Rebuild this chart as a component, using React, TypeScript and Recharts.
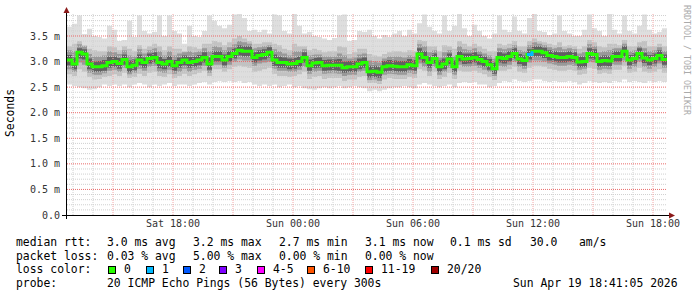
import React from 'react';
import { ComposedChart, Area, Line, XAxis, YAxis, ReferenceLine } from 'recharts';

// 30 h window, one sample every 15 min, starting Sat 12:42 (minutes since Sat 00:00)
const startMin = 762;
const stepMin = 15;

const median = [
  3.03, 2.95, 3.18, 3.15, 2.95, 2.9, 2.9, 2.92, 2.98, 3.0,
  2.96, 3.04, 2.9, 2.93, 3.03, 2.98, 3.06, 3.08, 2.98, 2.95,
  3.0, 2.92, 2.98, 3.03, 2.98, 3.0, 3.03, 3.08, 2.95, 3.1,
  3.1, 3.03, 3.1, 3.16, 3.22, 3.2, 3.2, 3.08, 3.12, 3.14,
  3.18, 3.03, 2.98, 2.98, 2.95, 2.96, 3.0, 3.08, 2.92, 2.97,
  2.98, 2.92, 2.93, 2.93, 2.93, 2.88, 2.9, 2.9, 2.95, 2.98,
  2.8, 2.81, 2.79, 2.9, 2.92, 2.91, 2.9, 2.9, 2.94, 2.92,
  3.15, 3.08, 2.98, 3.06, 2.9, 2.95, 3.05, 2.9, 3.1, 3.05,
  3.06, 3.08, 3.04, 3.0, 2.94, 2.86, 3.08, 3.06, 3.1, 3.16,
  3.05, 3.02, 3.14, 3.2, 3.2, 3.17, 3.12, 3.1, 3.08, 3.08,
  3.1, 3.08, 2.99, 3.0, 3.16, 3.14, 3.0, 3.02, 3.01, 3.1,
  3.1, 3.2, 3.03, 3.06, 3.16, 3.07, 3.03, 3.06, 3.12, 3.04,
];

const loss = median.map((_, i) => (i === 92 ? 1 : 0));

const maxRtt = [
  3.68, 3.74, 3.9, 3.54, 3.64, 3.5, 3.48, 3.45, 3.7, 3.62,
  3.4, 3.42, 3.8, 3.48, 3.9, 3.6, 3.55, 3.58, 3.9, 3.5,
  3.9, 3.6, 3.55, 3.35, 3.7, 3.5, 3.48, 3.6, 3.9, 3.8,
  3.7, 3.65, 3.72, 3.92, 3.95, 3.85, 3.6, 3.62, 3.58, 3.62,
  3.55, 3.92, 3.9, 3.6, 3.55, 3.95, 3.7, 3.55, 3.58, 3.5,
  3.48, 3.45, 3.42, 3.46, 3.9, 3.92, 3.4, 3.42, 3.6, 3.58,
  3.62, 3.5, 3.45, 3.52, 3.48, 3.55, 3.6, 3.5, 3.62, 3.55,
  3.75, 3.92, 3.68, 3.6, 3.55, 3.9, 3.6, 3.7, 3.95, 3.65,
  3.5, 3.72, 3.6, 3.5, 3.45, 3.55, 3.9, 3.62, 3.58, 3.88,
  3.6, 3.55, 3.85, 3.95, 3.6, 3.58, 3.52, 3.55, 3.9, 3.6,
  3.55, 3.5, 3.5, 3.62, 3.92, 3.65, 3.6, 3.5, 3.95, 3.62,
  3.55, 3.9, 3.6, 3.55, 3.7, 3.92, 3.62, 3.55, 3.58, 3.65,
];

const minRtt = [
  2.55, 2.52, 2.5, 2.48, 2.45, 2.46, 2.5, 2.55, 2.52, 2.55,
  2.52, 2.55, 2.5, 2.55, 2.58, 2.55, 2.5, 2.55, 2.52, 2.55,
  2.58, 2.52, 2.55, 2.55, 2.52, 2.55, 2.58, 2.6, 2.55, 2.6,
  2.62, 2.6, 2.62, 2.6, 2.62, 2.58, 2.6, 2.55, 2.52, 2.55,
  2.52, 2.55, 2.5, 2.52, 2.55, 2.5, 2.52, 2.48, 2.46, 2.45,
  2.48, 2.5, 2.48, 2.5, 2.52, 2.48, 2.5, 2.52, 2.5, 2.48,
  2.42, 2.45, 2.42, 2.45, 2.48, 2.5, 2.5, 2.52, 2.5, 2.48,
  2.55, 2.58, 2.55, 2.52, 2.5, 2.52, 2.55, 2.5, 2.58, 2.6,
  2.58, 2.6, 2.55, 2.55, 2.5, 2.52, 2.58, 2.62, 2.6, 2.65,
  2.62, 2.6, 2.62, 2.65, 2.65, 2.62, 2.6, 2.62, 2.6, 2.6,
  2.62, 2.6, 2.55, 2.58, 2.62, 2.6, 2.58, 2.6, 2.58, 2.62,
  2.6, 2.65, 2.6, 2.62, 2.6, 2.58, 2.62, 2.6, 2.62, 2.6,
];

const midHigh = [
  3.3, 3.35, 3.4, 3.32, 3.25, 3.22, 3.2, 3.2, 3.3, 3.28,
  3.22, 3.3, 3.25, 3.2, 3.32, 3.25, 3.3, 3.35, 3.3, 3.22,
  3.3, 3.25, 3.25, 3.2, 3.3, 3.28, 3.25, 3.35, 3.35, 3.4,
  3.38, 3.32, 3.38, 3.45, 3.5, 3.45, 3.4, 3.35, 3.35, 3.38,
  3.38, 3.35, 3.32, 3.25, 3.22, 3.35, 3.3, 3.3, 3.22, 3.25,
  3.22, 3.18, 3.2, 3.2, 3.3, 3.28, 3.15, 3.18, 3.25, 3.25,
  3.15, 3.12, 3.1, 3.15, 3.18, 3.2, 3.2, 3.18, 3.22, 3.2,
  3.42, 3.4, 3.3, 3.3, 3.2, 3.32, 3.3, 3.25, 3.4, 3.35,
  3.3, 3.35, 3.3, 3.25, 3.2, 3.2, 3.35, 3.32, 3.35, 3.4,
  3.3, 3.3, 3.4, 3.45, 3.4, 3.38, 3.35, 3.32, 3.38, 3.3,
  3.32, 3.3, 3.25, 3.3, 3.42, 3.38, 3.3, 3.28, 3.35, 3.35,
  3.32, 3.42, 3.3, 3.3, 3.38, 3.4, 3.3, 3.3, 3.35, 3.3,
];

const midLow = [
  2.75, 2.72, 2.85, 2.8, 2.7, 2.65, 2.66, 2.7, 2.72, 2.75,
  2.72, 2.78, 2.68, 2.7, 2.76, 2.72, 2.78, 2.8, 2.72, 2.7,
  2.75, 2.68, 2.72, 2.76, 2.72, 2.75, 2.78, 2.82, 2.72, 2.85,
  2.85, 2.8, 2.85, 2.9, 2.92, 2.9, 2.88, 2.8, 2.82, 2.85,
  2.88, 2.76, 2.72, 2.72, 2.7, 2.72, 2.75, 2.8, 2.66, 2.7,
  2.72, 2.66, 2.68, 2.68, 2.68, 2.62, 2.65, 2.65, 2.7, 2.72,
  2.58, 2.58, 2.56, 2.65, 2.68, 2.66, 2.66, 2.66, 2.7, 2.68,
  2.85, 2.82, 2.72, 2.8, 2.66, 2.7, 2.78, 2.66, 2.82, 2.8,
  2.8, 2.82, 2.78, 2.75, 2.7, 2.64, 2.82, 2.82, 2.85, 2.9,
  2.8, 2.78, 2.88, 2.92, 2.92, 2.9, 2.86, 2.84, 2.82, 2.82,
  2.84, 2.82, 2.74, 2.76, 2.88, 2.86, 2.76, 2.78, 2.76, 2.84,
  2.84, 2.92, 2.78, 2.8, 2.88, 2.8, 2.78, 2.8, 2.85, 2.78,
];

const innerHigh = [
  3.22, 3.2, 3.34, 3.3, 3.15, 3.1, 3.1, 3.12, 3.2, 3.18,
  3.15, 3.22, 3.12, 3.1, 3.24, 3.16, 3.22, 3.26, 3.2, 3.12,
  3.2, 3.12, 3.16, 3.18, 3.2, 3.18, 3.2, 3.26, 3.2, 3.3,
  3.28, 3.22, 3.28, 3.34, 3.4, 3.38, 3.35, 3.26, 3.28, 3.3,
  3.32, 3.24, 3.2, 3.16, 3.12, 3.2, 3.2, 3.24, 3.12, 3.14,
  3.14, 3.1, 3.1, 3.1, 3.16, 3.12, 3.06, 3.08, 3.14, 3.16,
  3.02, 3.0, 2.98, 3.06, 3.1, 3.1, 3.1, 3.08, 3.12, 3.1,
  3.34, 3.3, 3.18, 3.22, 3.08, 3.18, 3.22, 3.1, 3.3, 3.24,
  3.22, 3.26, 3.2, 3.16, 3.12, 3.06, 3.26, 3.24, 3.26, 3.32,
  3.22, 3.2, 3.32, 3.38, 3.35, 3.32, 3.28, 3.26, 3.28, 3.24,
  3.26, 3.24, 3.16, 3.18, 3.34, 3.3, 3.18, 3.2, 3.22, 3.26,
  3.26, 3.35, 3.2, 3.22, 3.3, 3.26, 3.2, 3.22, 3.28, 3.2,
];

const innerLow = [
  2.85, 2.8, 2.98, 2.94, 2.78, 2.74, 2.74, 2.77, 2.82, 2.84,
  2.8, 2.88, 2.75, 2.78, 2.86, 2.82, 2.9, 2.92, 2.8, 2.78,
  2.84, 2.76, 2.8, 2.86, 2.8, 2.84, 2.86, 2.92, 2.78, 2.94,
  2.94, 2.88, 2.94, 3.0, 3.04, 3.02, 3.02, 2.92, 2.96, 2.98,
  3.0, 2.86, 2.82, 2.82, 2.8, 2.8, 2.84, 2.9, 2.76, 2.8,
  2.82, 2.76, 2.77, 2.77, 2.76, 2.72, 2.74, 2.74, 2.8, 2.82,
  2.64, 2.65, 2.62, 2.74, 2.76, 2.75, 2.74, 2.74, 2.78, 2.76,
  2.96, 2.9, 2.8, 2.9, 2.74, 2.8, 2.88, 2.74, 2.94, 2.9,
  2.9, 2.92, 2.88, 2.84, 2.8, 2.72, 2.92, 2.9, 2.94, 3.0,
  2.9, 2.86, 2.98, 3.02, 3.02, 3.0, 2.96, 2.94, 2.92, 2.92,
  2.94, 2.92, 2.84, 2.86, 3.0, 2.98, 2.84, 2.86, 2.85, 2.94,
  2.94, 3.02, 2.86, 2.9, 3.0, 2.9, 2.86, 2.9, 2.96, 2.88,
];

const coreHigh = [
  3.13, 3.08, 3.26, 3.24, 3.06, 3.0, 3.01, 3.03, 3.1, 3.1,
  3.07, 3.14, 3.02, 3.04, 3.14, 3.08, 3.16, 3.18, 3.1, 3.05,
  3.11, 3.03, 3.08, 3.12, 3.09, 3.1, 3.13, 3.18, 3.08, 3.2,
  3.2, 3.14, 3.2, 3.26, 3.32, 3.3, 3.3, 3.18, 3.22, 3.24,
  3.28, 3.14, 3.1, 3.08, 3.06, 3.07, 3.1, 3.18, 3.04, 3.07,
  3.08, 3.03, 3.04, 3.04, 3.05, 3.0, 3.01, 3.01, 3.06, 3.08,
  2.92, 2.92, 2.9, 3.01, 3.03, 3.02, 3.01, 3.01, 3.05, 3.03,
  3.26, 3.2, 3.1, 3.16, 3.02, 3.06, 3.16, 3.02, 3.2, 3.16,
  3.16, 3.18, 3.14, 3.1, 3.05, 2.98, 3.18, 3.16, 3.2, 3.26,
  3.15, 3.12, 3.24, 3.3, 3.3, 3.27, 3.22, 3.2, 3.18, 3.18,
  3.2, 3.18, 3.1, 3.1, 3.26, 3.24, 3.1, 3.12, 3.11, 3.2,
  3.2, 3.3, 3.13, 3.16, 3.26, 3.17, 3.13, 3.16, 3.22, 3.14,
];

const coreLow = [
  2.93, 2.85, 3.06, 3.04, 2.85, 2.8, 2.8, 2.82, 2.88, 2.9,
  2.86, 2.94, 2.79, 2.83, 2.93, 2.88, 2.96, 2.98, 2.87, 2.85,
  2.9, 2.82, 2.88, 2.93, 2.88, 2.9, 2.93, 2.98, 2.84, 3.0,
  3.0, 2.93, 3.0, 3.06, 3.12, 3.1, 3.1, 2.98, 3.02, 3.04,
  3.08, 2.92, 2.88, 2.88, 2.85, 2.86, 2.9, 2.98, 2.82, 2.87,
  2.88, 2.82, 2.83, 2.83, 2.82, 2.78, 2.8, 2.8, 2.85, 2.88,
  2.69, 2.7, 2.68, 2.8, 2.82, 2.81, 2.8, 2.8, 2.84, 2.82,
  3.04, 2.98, 2.88, 2.96, 2.8, 2.85, 2.95, 2.8, 3.0, 2.95,
  2.96, 2.98, 2.94, 2.9, 2.84, 2.76, 2.98, 2.96, 3.0, 3.06,
  2.95, 2.92, 3.04, 3.1, 3.1, 3.07, 3.02, 3.0, 2.98, 2.98,
  3.0, 2.98, 2.89, 2.9, 3.06, 3.04, 2.9, 2.92, 2.91, 3.0,
  3.0, 3.1, 2.93, 2.96, 3.06, 2.97, 2.93, 2.96, 3.02, 2.94,
];

const yTicks = [0, 0.5, 1, 1.5, 2, 2.5, 3, 3.5];
const xTicks = [1080, 1440, 1800, 2160, 2520];
const xTickLabels = ['Sat 18:00', 'Sun 00:00', 'Sun 06:00', 'Sun 12:00', 'Sun 18:00'];

const lossColors = ['#26ff00', '#00b8ff', '#0059ff', '#7e00ff', '#ff00ff', '#ff5500', '#ff0000', '#a00000'];
const lossLabels = ['0', '1', '2', '3', '4-5', '6-10', '11-19', '20/20'];

const rttItems = ['3.0 ms avg', '3.2 ms max', '2.7 ms min', '3.1 ms now', '0.1 ms sd', '30.0', 'am/s'];
const lossItems = ['0.03 % avg', '5.00 % max', '0.00 % min', '0.00 % now'];
const probeText = '20 ICMP Echo Pings (56 Bytes) every 300s';
const stampText = 'Sun Apr 19 18:41:05 2026';

const rows = median.map((m, i) => ({
  t: startMin + i * stepMin,
  outer: [minRtt[i], maxRtt[i]],
  mid: [midLow[i], midHigh[i]],
  inner: [innerLow[i], innerHigh[i]],
  core: [coreLow[i], coreHigh[i]],
  med: m,
  med1: loss[i] === 1 || (i > 0 && loss[i - 1] === 1) ? m : null,
}));
rows.push({ ...rows[rows.length - 1], t: startMin + median.length * stepMin });

const endMin = startMin + median.length * stepMin;
// grid: minor every hour / 0.1 ms, major every 3 h / 0.5 ms
const majorX: number[] = [];
for (let t = 900; t < endMin; t += 180) majorX.push(t);
const minorX: number[] = [];
for (let t = 780; t < endMin; t += 60) if (!majorX.includes(t)) minorX.push(t);
const minorY: number[] = [];
for (let k = 1; k <= 39; k++) if (k % 5 !== 0) minorY.push(k / 10);

const mono = 'DejaVu Sans Mono, monospace';
const rttX = [107, 193, 279, 365, 450, 530, 579];
const boxX = [108, 146, 183, 219, 257, 307, 365, 431];

export default function App() {
  return (
    <div style={{ position: 'absolute', left: 0, top: 0, width: 697, height: 297, background: '#fff' }}>
      <ComposedChart width={697} height={297} data={rows} margin={{ top: 14, right: 30, bottom: 62, left: 0 }}>
        <XAxis
          dataKey="t"
          type="number"
          domain={[startMin, endMin]}
          ticks={xTicks}
          tickFormatter={(v: number) => xTickLabels[xTicks.indexOf(v)]}
          axisLine={false}
          tickLine={false}
          tickSize={0}
          tickMargin={5}
          height={20}
          tick={{ fill: '#333', fontSize: 10, fontFamily: mono }}
        />
        <YAxis
          type="number"
          domain={[0, 3.93]}
          ticks={yTicks}
          allowDataOverflow
          tickFormatter={(v: number) => (v === 0 ? '0.0' : `${v.toFixed(1)} m`)}
          axisLine={false}
          tickLine={false}
          tickSize={5}
          tickMargin={2}
          width={67}
          tick={{ fill: '#333', fontSize: 10, fontFamily: mono }}
        />
        <Area dataKey="outer" type="stepAfter" stroke="none" fill="#dedede" fillOpacity={1} isAnimationActive={false} />
        <Area dataKey="mid" type="stepAfter" stroke="none" fill="#c2c2c2" fillOpacity={1} isAnimationActive={false} />
        <Area dataKey="inner" type="stepAfter" stroke="none" fill="#999999" fillOpacity={1} isAnimationActive={false} />
        <Area dataKey="core" type="stepAfter" stroke="none" fill="#606060" fillOpacity={1} isAnimationActive={false} />
        {minorX.map((t) => (
          <ReferenceLine key={'mx' + t} x={t} stroke="#d0d0d0" strokeDasharray="1 1" />
        ))}
        {minorY.map((v) => (
          <ReferenceLine key={'my' + v} y={v} stroke="#d0d0d0" strokeDasharray="1 1" />
        ))}
        {majorX.map((t) => (
          <ReferenceLine key={'Mx' + t} x={t} stroke="#f4a4a4" strokeDasharray="1 1" />
        ))}
        {yTicks.slice(1).map((v) => (
          <ReferenceLine key={'My' + v} y={v} stroke="#ea6a6a" strokeDasharray="1 1" />
        ))}
        <Line dataKey="med" type="stepAfter" stroke={lossColors[0]} strokeWidth={3} dot={false} isAnimationActive={false} />
        <Line dataKey="med1" type="stepAfter" stroke={lossColors[1]} strokeWidth={3} dot={false} isAnimationActive={false} />
      </ComposedChart>
      <svg width={697} height={297} style={{ position: 'absolute', left: 0, top: 0, pointerEvents: 'none' }}>
        <line x1={66.5} y1={12} x2={66.5} y2={219} stroke="#000" />
        <line x1={62} y1={215.5} x2={670} y2={215.5} stroke="#000" />
        <polygon points="63.5,13 69.5,13 66.5,7" fill="#8b1a1a" />
        <polygon points="669,212.5 669,218.5 675,215.5" fill="#8b1a1a" />
        <text x={14} y={113} transform="rotate(-90 14 113)" textAnchor="middle" fontFamily={mono} fontSize={11.4} fill="#000">
          Seconds
        </text>
        <text x={684} y={5} transform="rotate(90 684 5)" fontFamily={mono} fontSize={8.3} fill="#aaa">
          RRDTOOL / TOBI OETIKER
        </text>
        <g fontFamily={mono} fontSize={11.4} fill="#000">
          <text x={16} y={245.5}>median rtt:</text>
          {rttItems.map((s, i) => (
            <text key={s} x={rttX[i]} y={245.5}>{s}</text>
          ))}
          <text x={16} y={259.5}>packet loss:</text>
          {lossItems.map((s, i) => (
            <text key={s + i} x={rttX[i]} y={259.5}>{s}</text>
          ))}
          <text x={16} y={273.2}>loss color:</text>
          {lossLabels.map((s, i) => (
            <g key={s}>
              <rect x={boxX[i] + 0.5} y={266.5} width={7} height={7} fill={lossColors[i]} stroke="#000" />
              <text x={boxX[i] + 16} y={273.2}>{s}</text>
            </g>
          ))}
          <text x={16} y={287}>probe:</text>
          <text x={107} y={287}>{probeText}</text>
          <text x={513} y={287}>{stampText}</text>
        </g>
      </svg>
    </div>
  );
}
